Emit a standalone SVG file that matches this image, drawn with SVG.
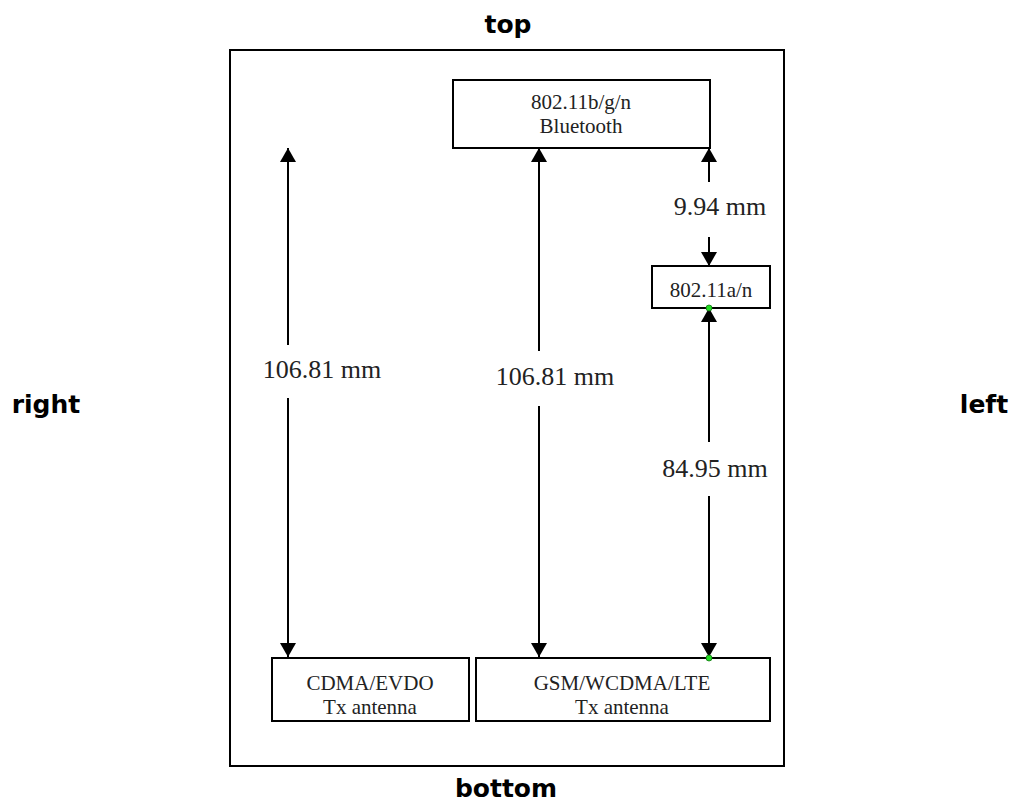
<svg xmlns="http://www.w3.org/2000/svg" width="1018" height="806" viewBox="0 0 1018 806">
<style>
.box{fill:#fff;stroke:#000;stroke-width:2}
.lbl{font-family:"Liberation Serif","Times New Roman",serif;font-size:21px;fill:#222;text-anchor:middle}
.dim{font-family:"Liberation Serif","Times New Roman",serif;font-size:26px;fill:#222;text-anchor:middle}
.side{font-family:"DejaVu Sans",Verdana,sans-serif;font-weight:bold;font-size:25px;fill:#000;text-anchor:middle}
.ln{stroke:#000;stroke-width:2;fill:none}
.dot{fill:#22dd22;stroke:#117711;stroke-width:0.8}
</style>
<defs>
<marker id="ah" viewBox="0 0 14 16" refX="14" refY="8" markerWidth="14" markerHeight="16" markerUnits="userSpaceOnUse" orient="auto">
<path d="M0,0 L14,8 L0,16 z" fill="#000"/>
</marker>
</defs>
<rect x="230" y="50" width="554" height="716" fill="#fff" stroke="#000" stroke-width="2"/>
<text class="side" x="508" y="33">top</text>
<text class="side" x="46" y="413">right</text>
<text class="side" x="984" y="413">left</text>
<text class="side" x="506" y="797">bottom</text>
<g id="connectors">
<line class="ln" x1="288" y1="345" x2="288" y2="148" marker-end="url(#ah)"/>
<line class="ln" x1="288" y1="398" x2="288" y2="657" marker-end="url(#ah)"/>
<line class="ln" x1="539" y1="351" x2="539" y2="148" marker-end="url(#ah)"/>
<line class="ln" x1="539" y1="406" x2="539" y2="657" marker-end="url(#ah)"/>
<line class="ln" x1="709" y1="182" x2="709" y2="148" marker-end="url(#ah)"/>
<line class="ln" x1="709" y1="237" x2="709" y2="266" marker-end="url(#ah)"/>
<line class="ln" x1="709" y1="442" x2="709" y2="308" marker-end="url(#ah)"/>
<line class="ln" x1="709" y1="496" x2="709" y2="657" marker-end="url(#ah)"/>
<text class="dim" x="322" y="378">106.81 mm</text>
<text class="dim" x="555" y="385">106.81 mm</text>
<text class="dim" x="720" y="215">9.94 mm</text>
<text class="dim" x="715" y="477">84.95 mm</text>
</g>
<g id="wifi-bt">
<rect class="box" x="453" y="80" width="257" height="68"/>
<text class="lbl" x="581" y="109">802.11b/g/n</text>
<text class="lbl" x="581" y="133">Bluetooth</text>
</g>
<g id="wifi-a">
<rect class="box" x="652" y="266" width="118" height="42"/>
<text class="lbl" x="711" y="297">802.11a/n</text>
</g>
<g id="cdma">
<rect class="box" x="272" y="658" width="197" height="63"/>
<text class="lbl" x="370" y="690">CDMA/EVDO</text>
<text class="lbl" x="370" y="714">Tx antenna</text>
</g>
<g id="gsm">
<rect class="box" x="476" y="658" width="294" height="63"/>
<text class="lbl" x="622" y="690">GSM/WCDMA/LTE</text>
<text class="lbl" x="622" y="714">Tx antenna</text>
</g>
<circle class="dot" cx="709" cy="308" r="3"/>
<circle class="dot" cx="709" cy="658" r="3"/>
</svg>
